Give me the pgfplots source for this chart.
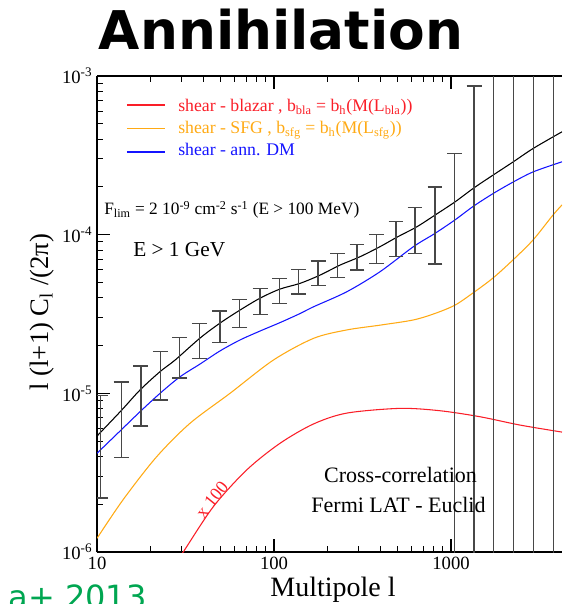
\documentclass[border=0pt]{standalone}
\usepackage{fontspec}
\setmainfont{Liberation Serif}
\newfontfamily\titlefont{DejaVu Sans}
\usepackage{pgfplots}
\pgfplotsset{compat=1.18}
\usepackage{pgfplotstable}

\definecolor{blazarred}{RGB}{250,30,40}
\definecolor{sfgorange}{RGB}{255,170,20}
\definecolor{dmblue}{RGB}{20,20,255}
\definecolor{refgreen}{RGB}{0,166,81}

% pixel position in the 562x604 reference -> picture coords (axis box at origin)
\newcommand{\px}[2]{({((#1)-97)*0.75pt},{(552-(#2))*0.75pt})}

\pgfplotstableread{
l y
28.6 9.0e-7
30.7 1.00e-6
45.4 1.93e-6
70.1 3.29e-6
108 4.84e-6
167 6.41e-6
258 7.51e-6
515 8.04e-6
867 7.77e-6
1459 7.12e-6
2455 6.31e-6
4236 5.70e-6
}\blazar

\pgfplotstableread{
l y
10 1.22e-6
14.1 2.15e-6
21.7 3.98e-6
33.5 6.47e-6
56.4 1.00e-5
99.1 1.62e-5
167 2.22e-5
258 2.51e-5
397 2.69e-5
612 2.90e-5
813 3.19e-5
1054 3.60e-5
1330 4.29e-5
1726 5.33e-5
2235 6.92e-5
2904 9.25e-5
3768 1.33e-4
4236 1.54e-4
}\sfg

\pgfplotstableread{
l y
10 4.19e-6
13.8 5.93e-6
17.5 7.66e-6
22.7 1.00e-5
29.4 1.27e-5
38.2 1.53e-5
49.5 1.85e-5
64.3 2.17e-5
83.4 2.47e-5
108 2.79e-5
140 3.18e-5
167 3.51e-5
258 4.37e-5
397 5.84e-5
612 8.39e-5
813 1.02e-4
1054 1.24e-4
1337 1.51e-4
1734 1.82e-4
2249 2.15e-4
2917 2.49e-4
4236 2.88e-4
}\annDM

\pgfplotstableread{
l y
10 5.38e-6
13.8 7.85e-6
17.5 1.05e-5
22.7 1.37e-5
27.6 1.62e-5
38.2 2.23e-5
49.5 2.77e-5
64.3 3.35e-5
83.4 3.98e-5
108 4.54e-5
140 4.93e-5
182 5.56e-5
236 6.43e-5
306 7.26e-5
397 8.40e-5
493 9.62e-5
640 1.12e-4
813 1.33e-4
1054 1.61e-4
1337 1.96e-4
1734 2.38e-4
2249 2.88e-4
2917 3.50e-4
4236 4.45e-4
}\total

% bins: centre, lower and upper end of each error bar
\pgfplotstableread{
l c lo hi
10.5 4.61e-6 2.19e-6 9.7e-6
13.7 6.81e-6 3.93e-6 1.18e-5
17.7 9.63e-6 6.22e-6 1.49e-5
22.8 1.288e-5 9.07e-6 1.83e-5
29.3 1.677e-5 1.25e-5 2.25e-5
37.9 2.14e-5 1.66e-5 2.76e-5
49.5 2.63e-5 2.10e-5 3.30e-5
63.9 3.18e-5 2.59e-5 3.91e-5
83.4 3.80e-5 3.15e-5 4.59e-5
107.4 4.41e-5 3.67e-5 5.31e-5
137.5 5.05e-5 4.23e-5 6.04e-5
177.3 5.70e-5 4.76e-5 6.82e-5
228.5 6.38e-5 5.35e-5 7.62e-5
294.4 7.21e-5 5.98e-5 8.69e-5
380.4 8.14e-5 6.59e-5 1.005e-4
489 9.35e-5 7.26e-5 1.205e-4
626 1.064e-4 7.62e-5 1.486e-4
812 1.143e-4 6.53e-5 2.00e-4
1047 1.6e-4 5e-7 3.25e-4
1349 2.0e-4 5e-7 8.64e-4
1739 2.4e-4 5e-7 2e-3
2249 2.9e-4 5e-7 2e-3
2917 3.5e-4 5e-7 2e-3
3784 4.2e-4 5e-7 2e-3
}\errs

\begin{document}
\begin{tikzpicture}
\begin{axis}[
  scale only axis,
  width=348.75pt, height=357pt,
  xmode=log, ymode=log,
  xmin=10, xmax=4236, ymin=1e-6, ymax=1e-3,
  axis x line*=box, axis y line*=left,
  axis line style={line width=1.1pt},
  xtick pos=both, ytick pos=left,
  tick align=inside,
  major tick length=9.75pt, minor tick length=4.5pt,
  every tick/.style={black, line width=0.8pt},
  xtick={10,100,1000}, xticklabels={10,100,1000},
  ytick={1e-6,1e-5,1e-4,1e-3},
  yticklabels={10\textsuperscript{-6},10\textsuperscript{-5},10\textsuperscript{-4},10\textsuperscript{-3}},
  tick label style={font=\fontsize{14}{16}\selectfont},
  xlabel={Multipole l},
  xlabel style={at={(axis description cs:0.5075,-0.0945)}, anchor=base, font=\fontsize{21}{24}\selectfont},
  ylabel={l (l+1) C\textsubscript{l} /(2π)},
  ylabel style={at={(axis description cs:-0.118,0.504)}, anchor=center, font=\fontsize{20}{24}\selectfont},
  legend style={at={(axis description cs:0.1742,0.9527)}, anchor=north west,
    draw=none, fill=none, font=\fontsize{13.3}{15}\selectfont,
    inner sep=0pt, row sep=4pt, column sep=0pt,
    nodes={inner sep=0pt, text height=9.5pt, text depth=3pt}},
  legend cell align=left,
  legend image code/.code={},
]
\addplot[color=blazarred, line width=0.8pt, smooth] table[x=l, y=y] {\blazar};
\addlegendentry[text=blazarred]{shear - blazar , b\textsubscript{bla} = b\textsubscript{h}(M(L\textsubscript{bla}))}
\addplot[color=sfgorange, line width=0.8pt, smooth] table[x=l, y=y] {\sfg};
\addlegendentry[text=sfgorange]{shear - SFG , b\textsubscript{sfg} = b\textsubscript{h}(M(L\textsubscript{sfg}))}
\addplot[color=dmblue, line width=0.8pt, smooth] table[x=l, y=y] {\annDM};
\addlegendentry[text=dmblue]{shear - ann. DM}
\addplot[black, line width=0.8pt, smooth, forget plot] table[x=l, y=y] {\total};
\addplot[draw=none, mark=none, forget plot,
  error bars/.cd, y dir=both, y explicit,
  error bar style={draw=black!72, line width=1pt},
  error mark options={draw=black!72, line width=1pt, mark size=5.6pt, rotate=90}]
  table[x=l, y=c, y error plus expr=\thisrow{hi}-\thisrow{c}, y error minus expr=\thisrow{c}-\thisrow{lo}] {\errs};
\end{axis}

% legend keys
\draw[blazarred, line width=0.8pt] \px{127}{105} -- \px{165}{105};
\draw[sfgorange, line width=0.8pt] \px{127}{128.5} -- \px{165}{128.5};
\draw[dmblue, line width=0.8pt] \px{127}{152} -- \px{165}{152};

\node[font=\titlefont\bfseries\fontsize{40}{44}\selectfont, anchor=base, inner sep=0pt] at \px{281}{50} {Annihilation};
\node[font=\fontsize{13}{15}\selectfont, anchor=base west, inner sep=0pt] at \px{104}{215}
  {F\textsubscript{lim} = 2 10\textsuperscript{-9} cm\textsuperscript{-2} s\textsuperscript{-1} (E > 100 MeV)};
\node[font=\fontsize{16}{18}\selectfont, anchor=base west, inner sep=0pt] at \px{133}{257} {E > 1 GeV};
\node[font=\fontsize{16.5}{19}\selectfont, anchor=base, inner sep=0pt] at \px{400.5}{483} {Cross-correlation};
\node[font=\fontsize{16.5}{19}\selectfont, anchor=base, inner sep=0pt] at \px{398.5}{513} {Fermi LAT - Euclid};
\node[font=\fontsize{13.5}{15}\selectfont, text=blazarred, rotate=51, inner sep=0pt] at \px{212}{500} {x 100};
\node[font=\titlefont\fontsize{24}{28}\selectfont, text=refgreen, anchor=base east, inner sep=0pt] at \px{147}{608} {a+ 2013};

\pgfresetboundingbox
\useasboundingbox \px{0}{604} rectangle \px{562}{0};
\end{tikzpicture}
\end{document}
